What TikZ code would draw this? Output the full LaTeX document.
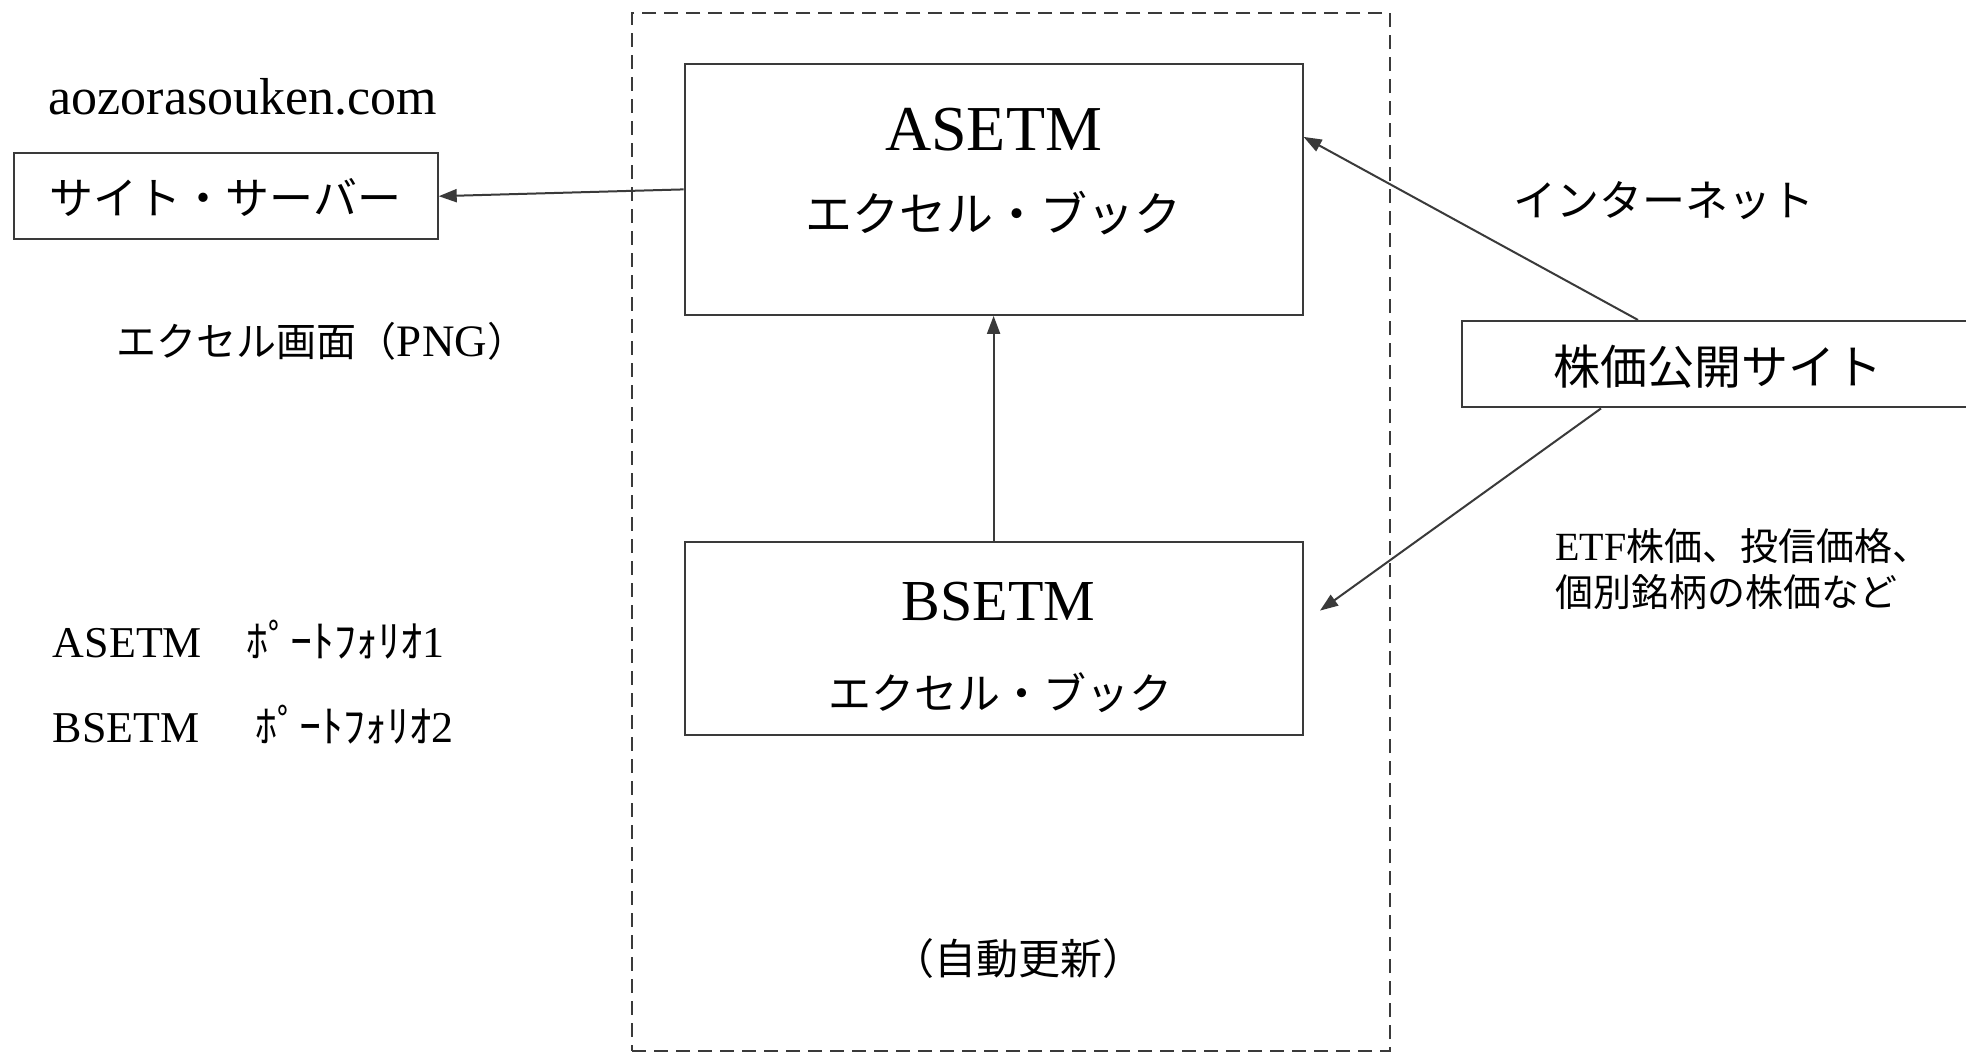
\documentclass[tikz,border=0pt]{standalone}
\usepackage{fontspec}
\setmainfont{Liberation Serif}
\newfontfamily\jp{Noto Sans CJK JP}
\usetikzlibrary{arrows.meta}
\definecolor{linec}{HTML}{3A3A3A}
\newcommand\fsz[1]{\fontsize{#1}{#1}\selectfont}
\begin{document}
\begin{tikzpicture}[x=1pt,y=-1pt,
  box/.style={draw=linec,line width=2pt,inner sep=0pt},
  framebox/.style={draw=linec,line width=1.8pt,dash pattern=on 14pt off 8pt,inner sep=0pt},
  arr/.style={draw=linec,line width=2pt,-{Triangle[length=18pt,width=13pt]}},
  lbl/.style={inner sep=0pt,text=black},
]
\useasboundingbox (0,0) rectangle (1966,1053);
\fill[white] (0,0) rectangle (1966,1053);

% dashed frame
\node[framebox,minimum width=758pt,minimum height=1038pt] (frame) at (1011,532) {};

% boxes
\node[box,minimum width=618pt,minimum height=251pt] (A) at (993.6,189.4) {};
\node[box,minimum width=618pt,minimum height=193pt] (B) at (993.6,638) {};
\node[box,minimum width=424pt,minimum height=86.5pt] (S) at (225.7,196.2) {};
\node[box,minimum width=508pt,minimum height=86.5pt] (K) at (1716,364.2) {};

% texts
\node[lbl,font=\fsz{52}] (url) at (243,96.5) {aozorasouken.com};
\node[lbl,font=\fsz{44}\jp] (stxt) at (225.7,197) {サイト・サーバー};
\node[lbl,font=\fsz{40}] (png) at (322,341) {{\jp エクセル画面（}{\fsz{45}PNG}{\jp ）}};
\node[lbl,font=\fsz{64}] (atxt) at (993.6,130) {ASETM};
\node[lbl,font=\fsz{47}\jp] (abook) at (993.6,213) {エクセル・ブック};
\node[lbl,font=\fsz{58}] (btxt) at (998.6,602) {BSETM};
\node[lbl,font=\fsz{43}\jp] (bbook) at (1000,693) {エクセル・ブック};
\node[lbl,font=\fsz{43}\jp] (net) at (1664,200.6) {インターネット};
\node[lbl,font=\fsz{47}\jp] (ktxt) at (1718,367) {株価公開サイト};
\node[lbl,font=\fsz{38},align=left,anchor=west] (etf) at (1555,569)
  {{\fsz{40}ETF}{\jp 株価、投信価格、}\\[8pt]{\jp 個別銘柄の株価など}};
\node[lbl,font=\fsz{42}\jp] (auto) at (1018,959) {（自動更新）};
\node[lbl,font=\fsz{44},anchor=west] (pa) at (52.7,639.5) {ASETM\hspace{44pt}{\jp ﾎﾟｰﾄﾌｫﾘｵ}1};
\node[lbl,font=\fsz{44},anchor=west] (pb) at (52.7,724.7) {BSETM\hspace{56pt}{\jp ﾎﾟｰﾄﾌｫﾘｵ}2};

% connectors
\coordinate (bend) at (1320,610.6);
\draw[arr] (A.west) -- (S.east);
\draw[arr] (B.north) -- (A.south);
\draw[arr] ([xshift=177pt]K.north west) -- ([yshift=-74pt]A.north east);
\draw[arr] ([xshift=140pt]K.south west) -- (bend);
\end{tikzpicture}
\end{document}
